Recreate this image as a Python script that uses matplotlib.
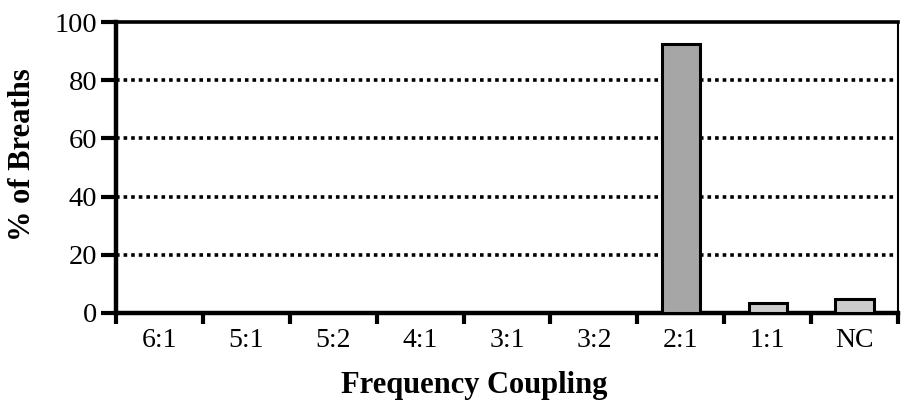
import matplotlib
matplotlib.use("Agg")
import matplotlib.pyplot as plt
import numpy as np

categories = ["6:1", "5:1", "5:2", "4:1", "3:1", "3:2", "2:1", "1:1", "NC"]
values = [0, 0, 0, 0, 0, 0, 92.5, 3.5, 4.7]
yticks = [0, 20, 40, 60, 80, 100]

plt.rcParams['font.family'] = ['Liberation Serif', 'DejaVu Serif']

fig = plt.figure(figsize=(9.04, 4.09), dpi=100)
ax = fig.add_axes([116/904, 96/409, 782/904, 291/409])

x = np.arange(len(categories)) + 0.5
colors = ['#a6a6a6' if v > 50 else '#cccccc' for v in values]
for xi, v, c in zip(x, values, colors):
    if v > 0:
        ax.bar(xi, v, width=0.44, color=c, edgecolor='black', linewidth=2.2, zorder=3)

ax.set_xlim(0, len(categories))
ax.set_ylim(0, 100)

for g in [20, 40, 60, 80]:
    ax.axhline(g, color='black', linestyle=(0, (1, 1.1)), linewidth=2.6, zorder=1)

ax.set_yticks(yticks)
ax.set_yticklabels([str(t) for t in yticks], fontsize=20.5)
ax.tick_params(axis='y', direction='out', length=11, width=3, pad=2.5)

ax.set_xticks(np.arange(len(categories) + 1))
ax.set_xticklabels([])
ax.tick_params(axis='x', which='major', direction='out', length=8, width=3)
ax.set_xticks(x, minor=True)
ax.set_xticklabels(categories, minor=True, fontsize=20)
ax.tick_params(axis='x', which='minor', length=0, pad=11)

for s, w in [('left', 3.2), ('bottom', 3.2), ('top', 2.6), ('right', 1.5)]:
    ax.spines[s].set_linewidth(w)
    ax.spines[s].set_color('black')

ax.set_ylabel("% of Breaths", fontsize=22, fontweight='bold')
ax.yaxis.set_label_coords(-(116 - 37) / 782, (313 - 155) / 291)
ax.set_xlabel("Frequency Coupling", fontsize=22, fontweight='bold')
ax.xaxis.set_label_coords((474 - 116) / 782, -(371 - 313) / 291)

fig.savefig("out.png", dpi=100)
